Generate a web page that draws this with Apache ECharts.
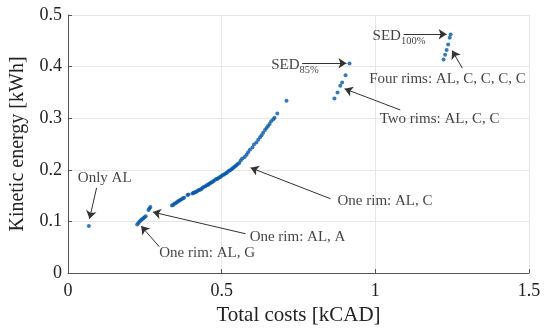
<!DOCTYPE html>
<html>
<head>
<meta charset="utf-8">
<script src="https://cdn.jsdelivr.net/npm/echarts@6/dist/echarts.min.js"></script>
<style>html,body{margin:0;padding:0;background:#fff}#c{width:550px;height:332px}</style>
</head>
<body>
<div id="c"></div>
<script>
// ---- data ----
var xTicks = [0, 0.5, 1, 1.5];
var yTicks = [0, 0.1, 0.2, 0.3, 0.4, 0.5];

var onlyAL = [[0.068, 0.091]];
var oneRimG_A = [
  [0.225, 0.094], [0.229, 0.097], [0.233, 0.100], [0.237, 0.102], [0.241, 0.104],
  [0.245, 0.106], [0.249, 0.108], [0.253, 0.110], [0.262, 0.122], [0.265, 0.125], [0.268, 0.128]
];
var oneRimC = [
  [0.338, 0.131], [0.342, 0.132], [0.346, 0.134], [0.350, 0.135], [0.354, 0.137], [0.358, 0.139],
  [0.362, 0.140], [0.366, 0.142], [0.370, 0.143], [0.374, 0.145], [0.378, 0.146], [0.389, 0.151],
  [0.392, 0.152], [0.405, 0.154], [0.408, 0.155], [0.411, 0.156], [0.415, 0.157], [0.419, 0.158],
  [0.423, 0.160], [0.427, 0.161], [0.431, 0.162], [0.434, 0.163], [0.438, 0.165], [0.443, 0.167],
  [0.447, 0.168], [0.452, 0.170], [0.456, 0.171], [0.459, 0.173], [0.463, 0.174], [0.467, 0.176],
  [0.471, 0.177], [0.475, 0.179], [0.480, 0.181], [0.484, 0.182], [0.488, 0.183], [0.492, 0.185],
  [0.496, 0.186], [0.499, 0.188], [0.504, 0.190], [0.508, 0.191], [0.512, 0.193], [0.516, 0.194],
  [0.520, 0.196], [0.524, 0.198], [0.528, 0.199], [0.532, 0.201], [0.536, 0.203], [0.540, 0.205],
  [0.544, 0.207], [0.548, 0.209], [0.552, 0.211], [0.557, 0.213], [0.562, 0.218], [0.567, 0.222],
  [0.575, 0.225], [0.581, 0.229], [0.586, 0.234], [0.592, 0.239], [0.600, 0.243], [0.605, 0.249],
  [0.613, 0.253], [0.619, 0.258], [0.625, 0.263], [0.630, 0.267], [0.635, 0.272], [0.641, 0.277],
  [0.646, 0.281], [0.651, 0.285], [0.656, 0.289], [0.661, 0.294], [0.668, 0.298], [0.672, 0.301],
  [0.681, 0.309]
];
var loneTop = [[0.711, 0.334]];
var sed85 = [[0.867, 0.338], [0.877, 0.350], [0.886, 0.363], [0.892, 0.369], [0.903, 0.383], [0.916, 0.406]];
var sed100 = [[1.222, 0.414], [1.227, 0.423], [1.232, 0.432], [1.237, 0.443], [1.242, 0.456], [1.245, 0.462]];

// annotation texts: [text, x, y] (left edge, vertical centre, data units)
var noteTexts = [
  ['Only AL', 0.032, 0.184],
  ['One rim: AL, G', 0.297, 0.038],
  ['One rim: AL, A', 0.591, 0.070],
  ['One rim: AL, C', 0.877, 0.139],
  ['Two rims: AL, C, C', 1.014, 0.298],
  ['Four rims: AL, C, C, C, C', 0.980, 0.376]
];
// subscript labels: [main, sub, x, y]
var sedTexts = [
  ['SED', '85%', 0.661, 0.403],
  ['SED', '100%', 0.991, 0.459]
];
// arrows: [x1, y1, x2, y2] (tail -> head)
var arrows = [
  [0.093, 0.165, 0.070, 0.105],
  [0.297, 0.051, 0.238, 0.091],
  [0.578, 0.076, 0.276, 0.118],
  [0.854, 0.144, 0.594, 0.204],
  [1.081, 0.316, 0.900, 0.357],
  [1.283, 0.397, 1.250, 0.431],
  [0.762, 0.4065, 0.906, 0.4065],
  [1.092, 0.4627, 1.232, 0.4627]
];

// ---- chart ----
var SERIF = 'Liberation Serif';
var BLUE = '#0659a8';
var allPoints = [].concat(onlyAL, oneRimG_A, oneRimC, loneTop, sed85, sed100);

var chart = echarts.init(document.getElementById('c'), null, {renderer: 'canvas'});
chart.setOption({
  animation: false,
  backgroundColor: '#fff',
  grid: {left: 67, right: 21, top: 15, bottom: 59},
  xAxis: {
    type: 'value', min: xTicks[0], max: xTicks[xTicks.length - 1], interval: 0.5,
    name: 'Total costs [kCAD]', nameLocation: 'middle', nameGap: 31,
    nameTextStyle: {fontFamily: SERIF, fontSize: 21, color: '#222'},
    axisLine: {lineStyle: {color: '#555', width: 1}},
    axisTick: {inside: true, length: 4, lineStyle: {color: '#555'}},
    axisLabel: {fontFamily: SERIF, fontSize: 18, color: '#222', margin: 9},
    splitLine: {lineStyle: {color: '#e6e6e6', width: 1}}
  },
  yAxis: {
    type: 'value', min: yTicks[0], max: yTicks[yTicks.length - 1], interval: 0.1,
    name: 'Kinetic energy [kWh]', nameLocation: 'middle', nameGap: 40,
    nameTextStyle: {fontFamily: SERIF, fontSize: 20, color: '#222'},
    axisLine: {show: true, lineStyle: {color: '#555', width: 1}},
    axisTick: {show: true, inside: true, length: 4, lineStyle: {color: '#555'}},
    axisLabel: {fontFamily: SERIF, fontSize: 18, color: '#222', margin: 6},
    splitLine: {lineStyle: {color: '#e6e6e6', width: 1}}
  },
  series: [
    {
      type: 'scatter', data: allPoints, symbol: 'circle', symbolSize: 4,
      itemStyle: {color: BLUE}, silent: true, z: 3,
      markLine: {
        silent: true, animation: false,
        symbol: ['none', 'arrow'], symbolSize: 8,
        itemStyle: {color: '#222'},
        lineStyle: {color: '#333', width: 1, type: 'solid'},
        label: {show: false},
        emphasis: {disabled: true},
        data: arrows.map(function (a) { return [{coord: [a[0], a[1]]}, {coord: [a[2], a[3]]}]; })
      }
    },
    {
      type: 'scatter', symbolSize: 0, silent: true, z: 4,
      data: noteTexts.map(function (n) { return {value: [n[1], n[2]], name: n[0]}; }),
      label: {
        show: true, position: 'right', distance: 0,
        formatter: function (p) { return p.name; },
        fontFamily: SERIF, fontSize: 15, color: '#111'
      }
    },
    {
      type: 'scatter', symbolSize: 0, silent: true, z: 4,
      data: sedTexts.map(function (n) { return {value: [n[2], n[3]], name: n[0], sub: n[1]}; }),
      label: {
        show: true, position: 'right', distance: 0,
        formatter: function (p) { return '{m|' + p.data.name + '}{s|' + p.data.sub + '}'; },
        rich: {
          m: {fontFamily: SERIF, fontSize: 15, color: '#111'},
          s: {fontFamily: SERIF, fontSize: 10.5, color: '#111', padding: [10, 0, 0, 0]}
        }
      }
    }
  ]
});
</script>
</body>
</html>
